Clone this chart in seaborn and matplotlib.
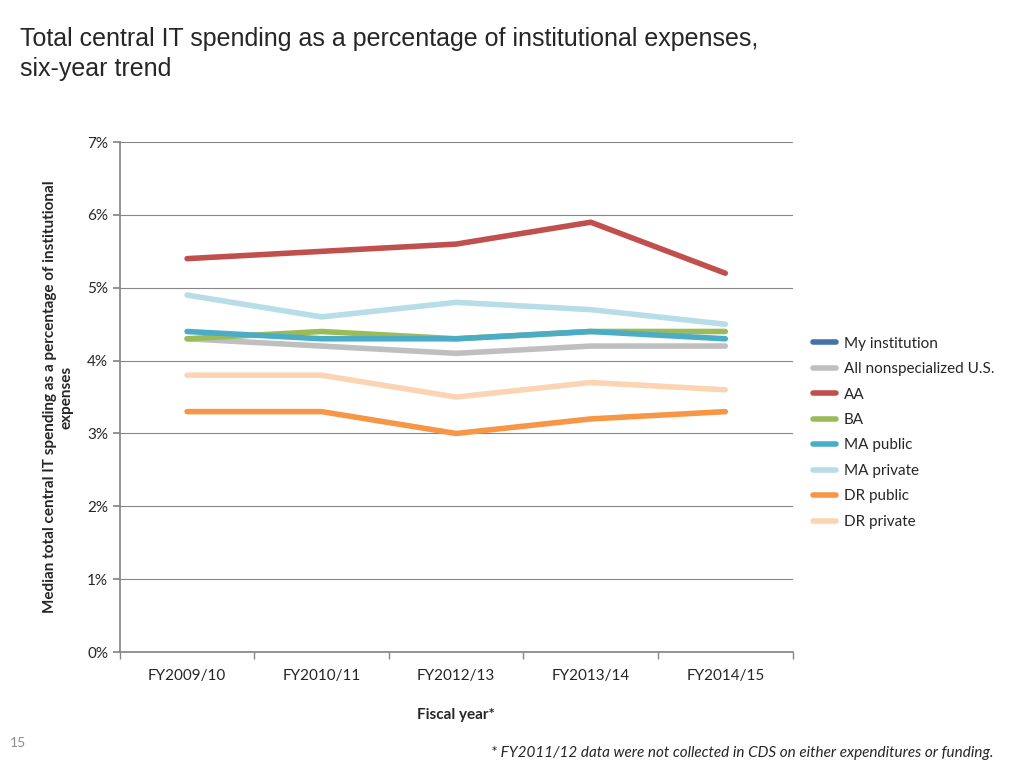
import matplotlib
matplotlib.use("Agg")
import matplotlib.pyplot as plt
import seaborn as sns
import pandas as pd
import numpy as np

years = ["FY2009/10", "FY2010/11", "FY2012/13", "FY2013/14", "FY2014/15"]
my_inst = [np.nan]*5
all_us = [4.3, 4.2, 4.1, 4.2, 4.2]
aa = [5.4, 5.5, 5.6, 5.9, 5.2]
ba = [4.3, 4.4, 4.3, 4.4, 4.4]
ma_pub = [4.4, 4.3, 4.3, 4.4, 4.3]
ma_priv = [4.9, 4.6, 4.8, 4.7, 4.5]
dr_pub = [3.3, 3.3, 3.0, 3.2, 3.3]
dr_priv = [3.8, 3.8, 3.5, 3.7, 3.6]

series = [("My institution", my_inst, "#4472a8"),
          ("All nonspecialized U.S.", all_us, "#bfbfbf"),
          ("AA", aa, "#c0504d"),
          ("BA", ba, "#9bbb59"),
          ("MA public", ma_pub, "#4bacc6"),
          ("MA private", ma_priv, "#b7dde8"),
          ("DR public", dr_pub, "#f79646"),
          ("DR private", dr_priv, "#fbd4b4")]

rows = []
for name, vals, _ in series:
    for i, v in enumerate(vals):
        rows.append({"x": i, "year": years[i], "series": name, "val": v})
df = pd.DataFrame(rows)

sns.set_theme(style="white")
plt.rcParams['font.family'] = ['Lato', 'DejaVu Sans']
fig = plt.figure(figsize=(10.24, 7.68), dpi=100)
ax = fig.add_axes([0.117, 0.151, 0.657, 0.664])
palette = {n: c for n, _, c in series}
sns.lineplot(data=df, x="x", y="val", hue="series", palette=palette,
             hue_order=[s[0] for s in series], linewidth=4, ax=ax, legend=True)
ax.set_xlim(-0.5, 4.5)
ax.set_ylim(0, 7)
ax.set_yticks(range(8))
ax.set_yticklabels([f"{i}%" for i in range(8)], fontsize=11)
ax.set_xticks(range(5))
ax.set_xticklabels(years, fontsize=11)
ax.set_xticks(np.arange(-0.5, 5, 1), minor=True)
ax.tick_params(axis='x', which='major', length=0, pad=12)
ax.tick_params(axis='x', which='minor', length=5, color='#868686', bottom=True)
ax.tick_params(axis='y', length=5, color='#868686', left=True)
ax.grid(axis='y', color='#868686', linewidth=0.8)
for s in ['top', 'right']:
    ax.spines[s].set_visible(False)
for s in ['left', 'bottom']:
    ax.spines[s].set_color('#868686')
ax.set_xlabel("Fiscal year*", fontsize=11, fontweight='bold', labelpad=18)
ax.set_ylabel("Median total central IT spending as a percentage of institutional\nexpenses",
              fontsize=11, fontweight='bold', labelpad=10)
handles, labels = ax.get_legend_handles_labels()
ax.legend(handles, labels, loc='center left', bbox_to_anchor=(1.01, 0.43),
          frameon=False, fontsize=11, handlelength=1.5, handletextpad=0.5,
          labelspacing=0.75)
fig.text(0.02, 0.965, "Total central IT spending as a percentage of institutional expenses,\nsix-year trend",
         fontsize=18, family=['Liberation Sans', 'DejaVu Sans'], va='top', linespacing=1.3)
fig.text(0.01, 0.025, "15", fontsize=10, color='#8c8c8c', va='bottom')
fig.text(0.97, 0.01, "* FY2011/12 data were not collected in CDS on either expenditures or funding.",
         fontsize=11, style='italic', ha='right', va='bottom')
fig.savefig("out.png", dpi=100)
